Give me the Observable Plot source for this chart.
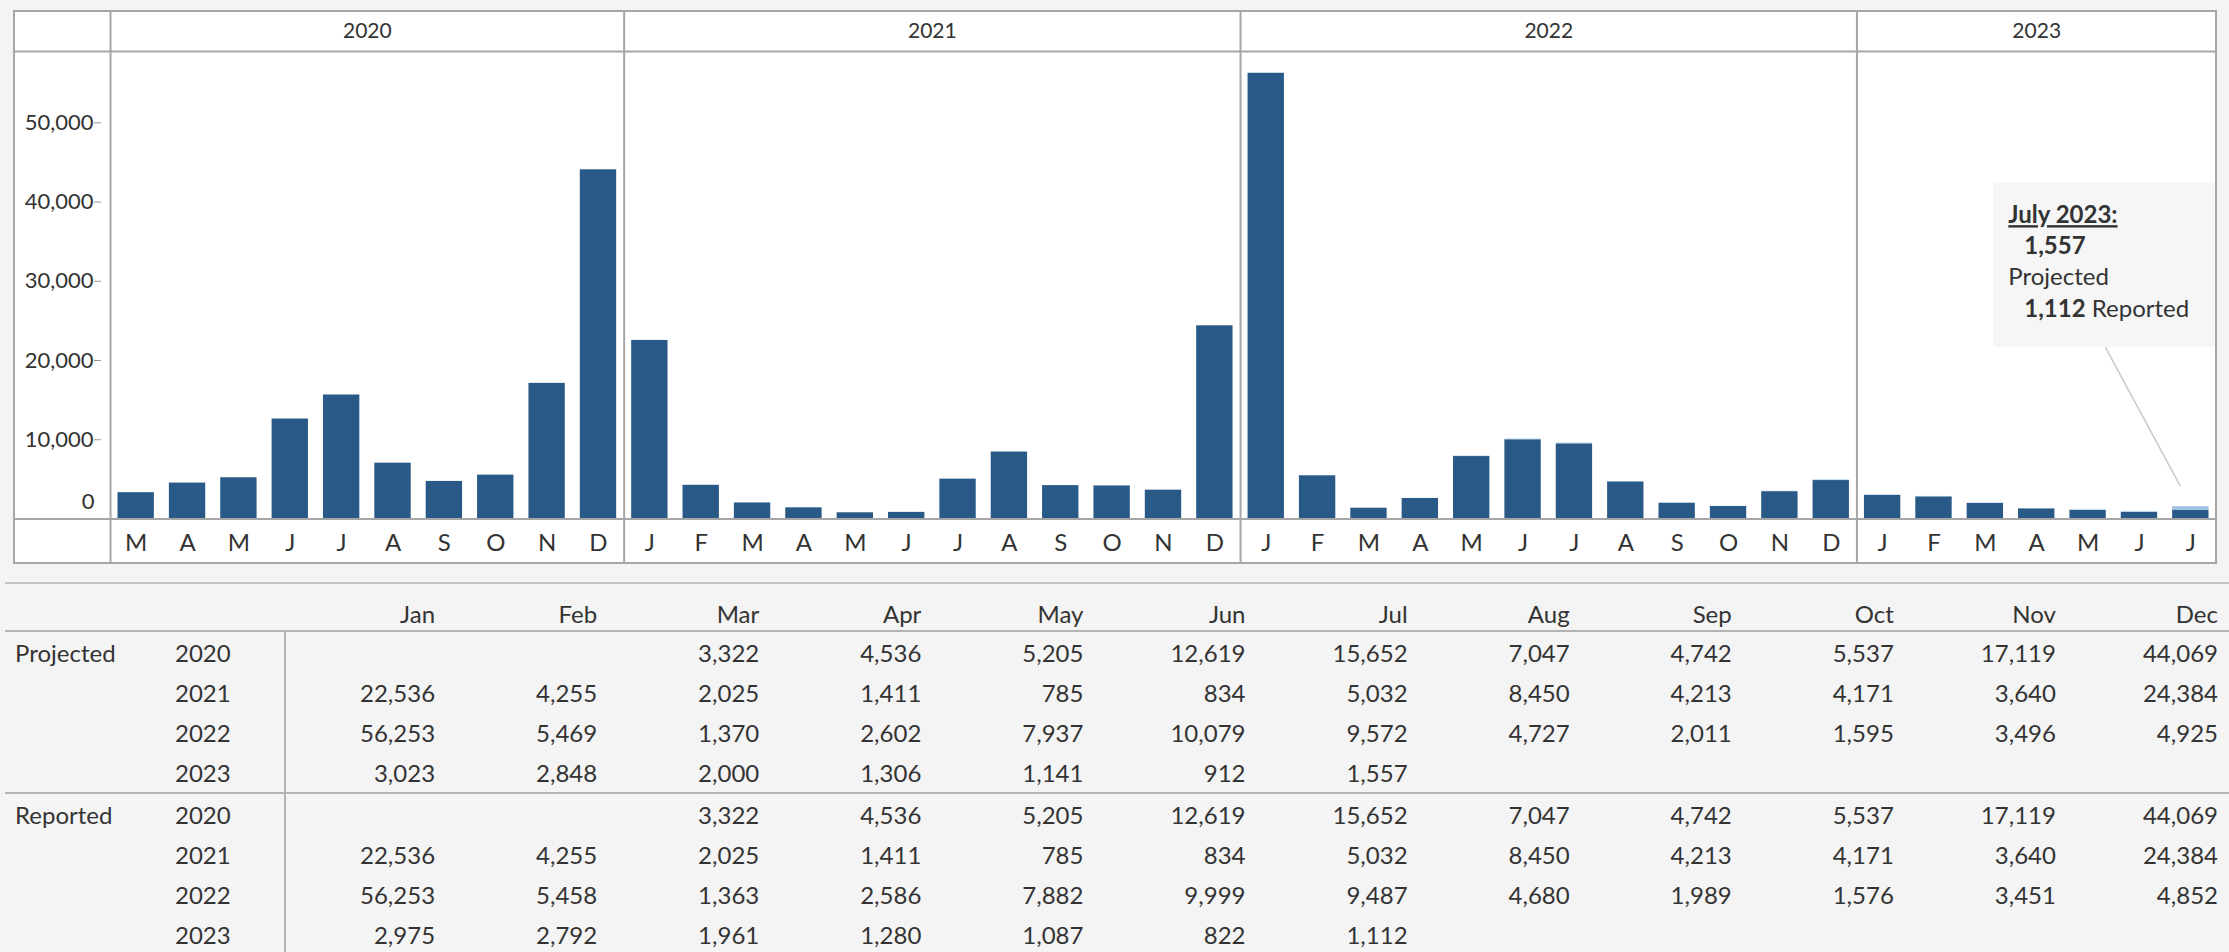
<!DOCTYPE html>
<html>
<head>
<meta charset="utf-8">
<script src="https://cdn.jsdelivr.net/npm/d3@7"></script>
<script src="https://cdn.jsdelivr.net/npm/@observablehq/plot@0.6"></script>
<style>
  html, body { margin: 0; padding: 0; background: #f4f4f4; }
  body { width: 2229px; height: 952px; position: relative; overflow: hidden;
         font-family: Lato, "Liberation Sans", sans-serif; color: #333; }
  #frame { position: absolute; left: 13px; top: 10px; width: 2204px; height: 554px;
           background: #fff; border: 2px solid #a6a6a6; box-sizing: border-box; }
  #chart { position: absolute; left: 0; top: 0; }
  #tbl { position: absolute; left: 5px; top: 582px; width: 2224px;
         display: grid; grid-template-columns: 160px 119px repeat(12, 1fr);
         border-top: 2px solid #c4c4c4; font-size: 24px; color: #333; }
  .c { height: 40px; box-sizing: border-box; display: flex; align-items: center; white-space: nowrap; }
  .h { height: 48px; padding-top: 12px; border-bottom: 2px solid #b4b4b4; }
  .lab { padding-left: 10px; }
  .yr { padding-left: 10px; }
  .num { justify-content: flex-end; padding-right: 11px; }
  .first { border-left: 2px solid #b4b4b4; }
  .sep { border-top: 2px solid #b4b4b4; height: 42px; }
</style>
</head>
<body>
<div id="frame"></div>
<div id="chart"></div>
<div id="tbl"></div>
<script>
// ---------- data ----------
const years = [2020, 2021, 2022, 2023];
const monthNames = ["Jan", "Feb", "Mar", "Apr", "May", "Jun", "Jul", "Aug", "Sep", "Oct", "Nov", "Dec"];
const monthLetters = ["J", "F", "M", "A", "M", "J", "J", "A", "S", "O", "N", "D"];

const projected2020 = [null, null, 3322, 4536, 5205, 12619, 15652, 7047, 4742, 5537, 17119, 44069];
const projected2021 = [22536, 4255, 2025, 1411, 785, 834, 5032, 8450, 4213, 4171, 3640, 24384];
const projected2022 = [56253, 5469, 1370, 2602, 7937, 10079, 9572, 4727, 2011, 1595, 3496, 4925];
const projected2023 = [3023, 2848, 2000, 1306, 1141, 912, 1557, null, null, null, null, null];

const reported2020 = [null, null, 3322, 4536, 5205, 12619, 15652, 7047, 4742, 5537, 17119, 44069];
const reported2021 = [22536, 4255, 2025, 1411, 785, 834, 5032, 8450, 4213, 4171, 3640, 24384];
const reported2022 = [56253, 5458, 1363, 2586, 7882, 9999, 9487, 4680, 1989, 1576, 3451, 4852];
const reported2023 = [2975, 2792, 1961, 1280, 1087, 822, 1112, null, null, null, null, null];

const yTicks = [0, 10000, 20000, 30000, 40000, 50000];
const yMax = 59000;
const note = {year: 2023, month: 6, title: "July 2023:", projectedLabel: "Projected", reportedLabel: "Reported"};

// ---------- derived tables ----------
const projected = {2020: projected2020, 2021: projected2021, 2022: projected2022, 2023: projected2023};
const reported = {2020: reported2020, 2021: reported2021, 2022: reported2022, 2023: reported2023};

const rows = [];
years.forEach(y => projected[y].forEach((p, m) => {
  if (p != null) rows.push({year: y, month: m, i: rows.length, i1: rows.length + 1, projected: p, reported: reported[y][m]});
}));
const spans = years.map(y => {
  const r = rows.filter(d => d.year === y);
  return {year: y, start: r[0].i, end: r[r.length - 1].i1};
});

const fmt = d3.format(",");
const ink = "#333333";
const lineColor = "#a6a6a6";
const dark = "#295a87";
const light = "#9cc3e3";
const font = "Lato, 'Liberation Sans', sans-serif";

function annotation(index, scales) {
  const d = rows.find(r => r.year === note.year && r.month === note.month);
  const cx = scales.x(d.i + 0.5), cy = scales.y(d.projected);
  const g = d3.create("svg:g").attr("font-family", font).attr("font-size", 24)
    .attr("fill", ink).attr("text-anchor", "start");
  g.append("rect").attr("x", cx - 197).attr("y", cy - 324).attr("width", 221).attr("height", 165).attr("fill", "#f6f6f6");
  g.append("line").attr("x1", cx - 85).attr("y1", cy - 159).attr("x2", cx - 10).attr("y2", cy - 20)
    .attr("stroke", "#c9c9c9").attr("stroke-width", 1.5);
  g.append("text").attr("x", cx - 182).attr("y", cy - 283).attr("font-weight", "bold")
    .style("text-decoration", "underline").text(note.title);
  g.append("text").attr("x", cx - 166).attr("y", cy - 252).attr("font-weight", "bold").text(fmt(d.projected));
  g.append("text").attr("x", cx - 182).attr("y", cy - 221).text(note.projectedLabel);
  const t = g.append("text").attr("x", cx - 166).attr("y", cy - 189);
  t.append("tspan").attr("font-weight", "bold").text(fmt(d.reported));
  t.append("tspan").text(" " + note.reportedLabel);
  return g.node();
}

const chart = Plot.plot({
  width: 2229, height: 565,
  marginLeft: 110, marginRight: 13, marginTop: 51, marginBottom: 46.5,
  style: {background: "transparent", fontFamily: font, fontSize: "22px", color: ink, overflow: "visible"},
  x: {domain: [0, rows.length], axis: null},
  y: {domain: [0, yMax]},
  marks: [
    Plot.rect(rows, {x1: "i", x2: "i1", y1: () => 0, y2: "reported", fill: dark, insetLeft: 7.5, insetRight: 7.5}),
    Plot.rect(rows.filter(d => d.projected > d.reported),
      {x1: "i", x2: "i1", y1: "reported", y2: "projected", fill: light, insetLeft: 7.5, insetRight: 7.5}),
    Plot.ruleY([0], {stroke: lineColor, strokeWidth: 2, insetLeft: -96}),
    Plot.ruleY([yMax], {stroke: lineColor, strokeWidth: 2, insetLeft: -96}),
    Plot.ruleX([0, ...spans.slice(1).map(s => s.start)],
      {stroke: lineColor, strokeWidth: 2, insetTop: -40, insetBottom: -44.5}),
    Plot.axisY(yTicks.filter(t => t > 0), {tickSize: 7, tickPadding: 1, dx: -9, tickFormat: fmt,
      fontSize: 22, stroke: "#999", fill: ink}),
    Plot.text(yTicks.filter(t => t === 0), {y: d => d, frameAnchor: "left", dx: -16, dy: -17,
      textAnchor: "end", lineAnchor: "middle", text: d => fmt(d), fontSize: 22, fill: ink}),
    Plot.text(spans, {x: d => (d.start + d.end) / 2, frameAnchor: "top", lineAnchor: "middle", dy: -20,
      text: d => String(d.year), fontSize: 21, fill: ink}),
    Plot.text(rows, {x: d => d.i + 0.5, frameAnchor: "bottom", lineAnchor: "middle", dy: 24,
      text: d => monthLetters[d.month], fontSize: 24, fill: ink}),
    annotation
  ]
});
document.getElementById("chart").append(chart);

// ---------- table ----------
const tbl = document.getElementById("tbl");
function cell(cls, text) {
  const el = document.createElement("div");
  el.className = "c " + cls;
  el.textContent = text == null ? "" : text;
  tbl.append(el);
}
cell("h", ""); cell("h", "");
monthNames.forEach(m => cell("h num", m));
[["Projected", projected], ["Reported", reported]].forEach(([label, src], gi) => {
  years.forEach((y, yi) => {
    const sep = gi > 0 && yi === 0 ? " sep" : "";
    cell("lab" + sep, yi === 0 ? label : "");
    cell("yr" + sep, String(y));
    src[y].forEach((v, m) => cell("num" + sep + (m === 0 ? " first" : ""), v == null ? "" : fmt(v)));
  });
});
</script>
</body>
</html>
